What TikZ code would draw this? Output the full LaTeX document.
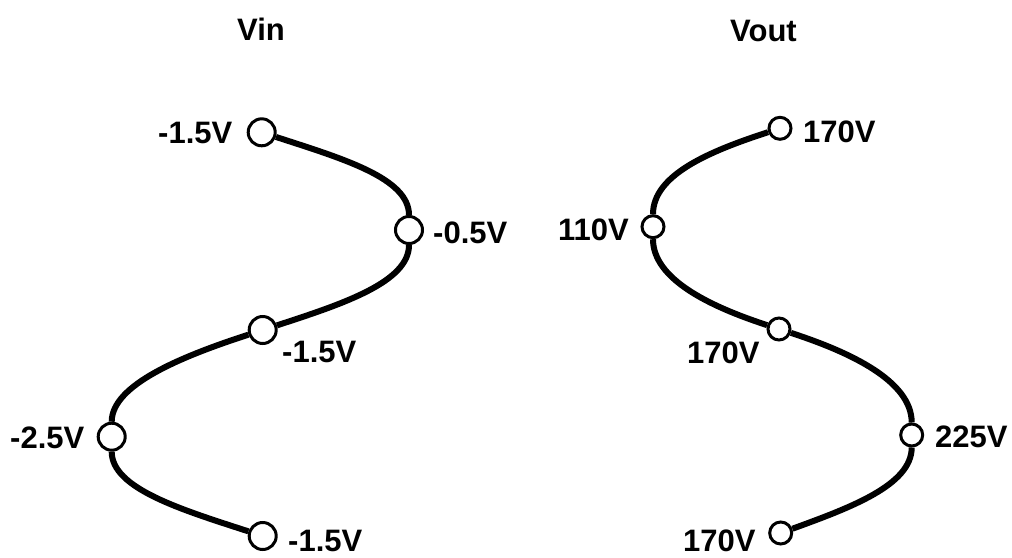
\documentclass[tikz,border=0pt]{standalone}
\usepackage{fontspec}
\setmainfont{Liberation Sans}
\pgfdeclarelayer{bg}
\pgfsetlayers{bg,main}
\begin{document}
\begin{tikzpicture}[x=1pt,y=1pt,
  pin/.style={circle, draw, fill=white, line width=3pt, inner sep=0pt, minimum size=27pt},
  pinr/.style={pin, minimum size=22pt},
  wire/.style={line width=6pt},
  lbl/.style={inner sep=0pt, font=\fontsize{31}{37}\selectfont\bfseries}]
\useasboundingbox (0,0) rectangle (1012,-557);
% titles
\node[lbl, anchor=base west] (vin) at (237,-40) {Vin};
\node[lbl, anchor=base west] (vout) at (730,-41) {Vout};
% left pins
\node[pin] (c1) at (261.7,-132.3) {};
\node[pin] (c2) at (409,-230) {};
\node[pin] (c3) at (262.7,-330) {};
\node[pin] (c4) at (111.7,-436.7) {};
\node[pin] (c5) at (262.7,-536) {};
% right pins
\node[pinr] (d1) at (780,-128.3) {};
\node[pinr] (d2) at (653,-226.7) {};
\node[pinr] (d3) at (779,-329) {};
\node[pinr] (d4) at (911.7,-435) {};
\node[pinr] (d5) at (780.7,-533) {};
% labels
\node[lbl, anchor=base west] (l1) at (158,-143) {-1.5V};
\node[lbl, anchor=base west] (l2) at (433,-243) {-0.5V};
\node[lbl, anchor=base west] (l3) at (282,-362) {-1.5V};
\node[lbl, anchor=base west] (l4) at (10,-448) {-2.5V};
\node[lbl, anchor=base west] (l5) at (288,-551) {-1.5V};
\node[lbl, anchor=base west] (r1) at (803,-142) {170V};
\node[lbl, anchor=base west] (r2) at (558,-240) {110V};
\node[lbl, anchor=base west] (r3) at (687,-363) {170V};
\node[lbl, anchor=base west] (r4) at (935,-447) {225V};
\node[lbl, anchor=base west] (r5) at (683,-551) {170V};
% wires
\begin{pgfonlayer}{bg}
\draw[wire] (c1) .. controls +(80.8,-26.3) and +(0,52) .. (c2);
\draw[wire] (c2) .. controls +(0,-52) and +(80.8,26.3) .. (c3);
\draw[wire] (c3) .. controls +(-80.8,-26.3) and +(0,52) .. (c4);
\draw[wire] (c4) .. controls +(0,-52) and +(-80.8,26.3) .. (c5);
\draw[wire] (d1) .. controls +(-70.4,-22.9) and +(0,52) .. (d2);
\draw[wire] (d2) .. controls +(0,-52) and +(-70.4,22.9) .. (d3);
\draw[wire] (d3) .. controls +(71.3,-23.2) and +(0,54) .. (d4);
\draw[wire] (d4) .. controls +(0,-50) and +(70,25.5) .. (d5);
\end{pgfonlayer}
\end{tikzpicture}
\end{document}
